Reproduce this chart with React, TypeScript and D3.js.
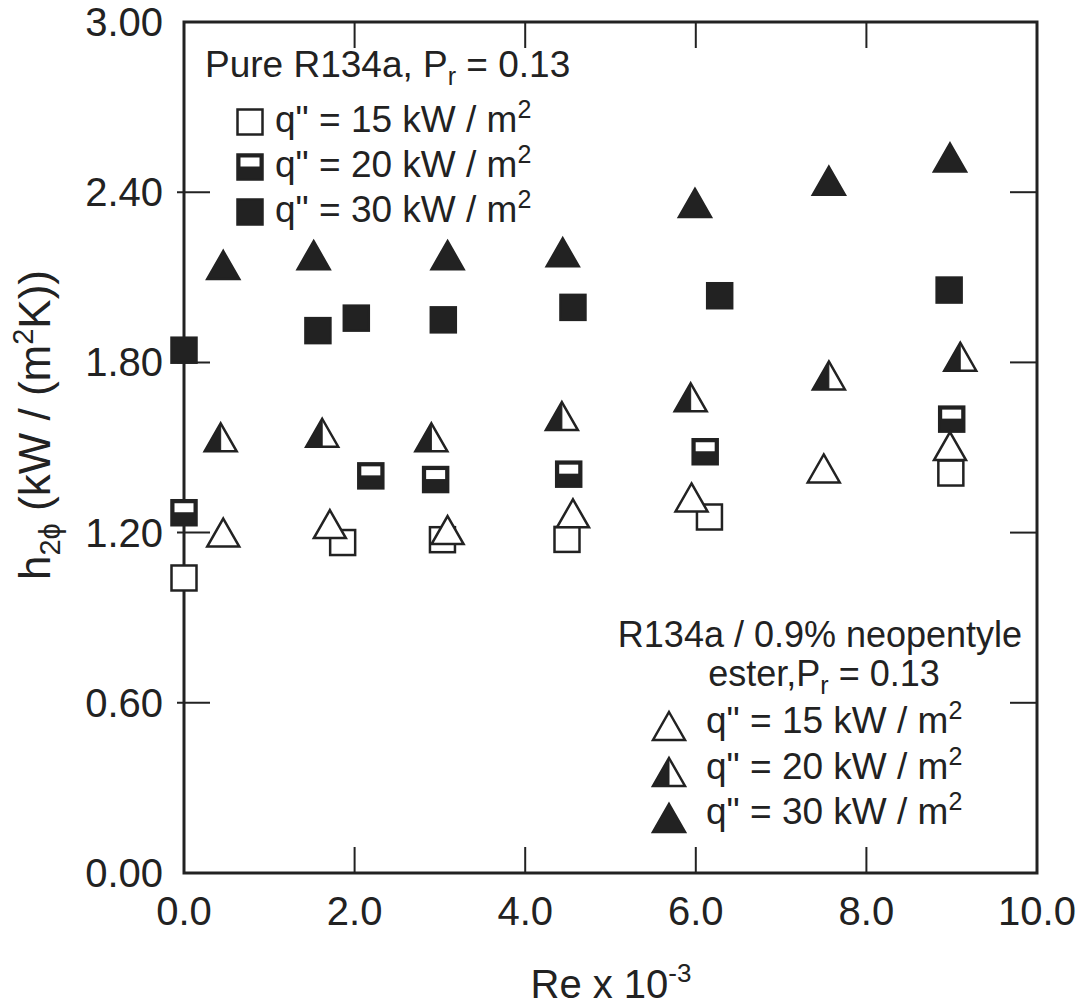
import React from 'react';
import * as d3 from 'd3';

// Re x 10^-3 and h2phi (kW/(m2K))
const pure15Re = [0.0, 1.86, 3.03, 4.49, 6.16, 8.99];
const pure15H = [1.04, 1.165, 1.175, 1.176, 1.255, 1.41];
const pure20Re = [0.0, 2.19, 2.95, 4.51, 6.11, 9.0];
const pure20H = [1.27, 1.4, 1.387, 1.406, 1.485, 1.6];
const pure30Re = [0.0, 1.57, 2.02, 3.04, 4.56, 6.28, 8.97];
const pure30H = [1.843, 1.912, 1.956, 1.95, 1.994, 2.035, 2.055];

const oil15Re = [0.46, 1.71, 3.09, 4.56, 5.95, 7.5, 8.98];
const oil15H = [1.2, 1.23, 1.209, 1.268, 1.324, 1.426, 1.505];
const oil20Re = [0.43, 1.62, 2.9, 4.43, 5.94, 7.56, 9.1];
const oil20H = [1.536, 1.552, 1.536, 1.611, 1.677, 1.754, 1.82];
const oil30Re = [0.46, 1.52, 3.09, 4.44, 5.99, 7.56, 8.98];
const oil30H = [2.143, 2.178, 2.178, 2.188, 2.362, 2.44, 2.522];

const fluxLabels = ['15', '20', '30'];
const xTicks = [0, 2, 4, 6, 8, 10];
const yTicks = [0, 0.6, 1.2, 1.8, 2.4, 3.0];

const W = 1078;
const H = 1008;
const left = 184;
const right = 1037;
const top = 22;
const bottom = 873;
const ink = '#222';
const font = '"Liberation Sans", Arial, Helvetica, sans-serif';

const x = d3.scaleLinear().domain([0, 10]).range([left, right]);
const y = d3.scaleLinear().domain([0, 3]).range([bottom, top]);

const SQ = 25;
const TW = 32;
const TH = 28;

type Kind = 'open' | 'half' | 'full';

const Square = ({ cx, cy, kind }: { cx: number; cy: number; kind: Kind }) => (
  <g>
    <rect x={cx - SQ / 2} y={cy - SQ / 2} width={SQ} height={SQ}
      fill={kind === 'open' ? '#fff' : ink} stroke={ink} strokeWidth={2.5} />
    {kind === 'half' && (
      <rect x={cx - SQ / 2 + 3} y={cy - SQ / 2 + 3} width={SQ - 6} height={9} fill="#fff" />
    )}
  </g>
);

const Triangle = ({ cx, cy, kind }: { cx: number; cy: number; kind: Kind }) => {
  const pts = d3.path();
  pts.moveTo(cx, cy - TH / 2);
  pts.lineTo(cx + TW / 2, cy + TH / 2);
  pts.lineTo(cx - TW / 2, cy + TH / 2);
  pts.closePath();
  const leftHalf = d3.path();
  leftHalf.moveTo(cx, cy - TH / 2);
  leftHalf.lineTo(cx, cy + TH / 2);
  leftHalf.lineTo(cx - TW / 2, cy + TH / 2);
  leftHalf.closePath();
  return (
    <g>
      <path d={pts.toString()} fill={kind === 'full' ? ink : '#fff'} stroke={ink}
        strokeWidth={2.5} strokeLinejoin="miter" />
      {kind === 'half' && <path d={leftHalf.toString()} fill={ink} stroke={ink} strokeWidth={1} />}
    </g>
  );
};

const pairs = (xs: number[], ys: number[]) => xs.map((v, i) => [v, ys[i]]);

const Sub = ({ children, size = 25 }: { children: React.ReactNode; size?: number }) => (
  <tspan fontSize={size} dy={8}>{children}</tspan>
);

export default function App() {
  return (
    <svg width={W} height={H} style={{ position: 'absolute', left: 0, top: 0, background: '#fff' }}
      fontFamily={font} fill={ink}>
      <rect x={0} y={0} width={W} height={H} fill="#fff" />

      {/* frame */}
      <rect x={left} y={top} width={right - left} height={bottom - top} fill="none" stroke={ink} strokeWidth={3} />

      {/* ticks, pointing inward on all four sides */}
      {xTicks.slice(1, -1).map(t => (
        <g key={'xt' + t}>
          <line x1={x(t)} x2={x(t)} y1={bottom} y2={bottom - 26} stroke={ink} strokeWidth={2} />
          <line x1={x(t)} x2={x(t)} y1={top} y2={top + 26} stroke={ink} strokeWidth={2} />
        </g>
      ))}
      {yTicks.slice(1, -1).map(t => (
        <g key={'yt' + t}>
          <line x1={left - 7} x2={left + 26} y1={y(t)} y2={y(t)} stroke={ink} strokeWidth={2} />
          <line x1={right} x2={right - 27} y1={y(t)} y2={y(t)} stroke={ink} strokeWidth={2} />
        </g>
      ))}

      {/* tick labels */}
      {xTicks.map(t => (
        <text key={'xl' + t} x={x(t)} y={925} fontSize={40} textAnchor="middle">{t.toFixed(1)}</text>
      ))}
      {yTicks.map(t => (
        <text key={'yl' + t} x={163} y={y(t) + 14} fontSize={40} textAnchor="end">{t.toFixed(2)}</text>
      ))}

      {/* axis titles */}
      <text x={611} y={998} fontSize={40} textAnchor="middle">
        Re x 10<tspan fontSize={26} dy={-16}>-3</tspan>
      </text>
      <text transform="translate(50,425) rotate(-90)" fontSize={44} textAnchor="middle">
        h<tspan fontSize={29} dy={10}>2ϕ</tspan><tspan dy={-10}> (kW / (m</tspan>
        <tspan fontSize={29} dy={-17}>2</tspan><tspan dy={17}>K))</tspan>
      </text>

      {/* data */}
      {pairs(pure15Re, pure15H).map(([a, b], i) => <Square key={'p15' + i} cx={x(a)} cy={y(b)} kind="open" />)}
      {pairs(pure20Re, pure20H).map(([a, b], i) => <Square key={'p20' + i} cx={x(a)} cy={y(b)} kind="half" />)}
      {pairs(pure30Re, pure30H).map(([a, b], i) => <Square key={'p30' + i} cx={x(a)} cy={y(b)} kind="full" />)}
      {pairs(oil15Re, oil15H).map(([a, b], i) => <Triangle key={'o15' + i} cx={x(a)} cy={y(b)} kind="open" />)}
      {pairs(oil20Re, oil20H).map(([a, b], i) => <Triangle key={'o20' + i} cx={x(a)} cy={y(b)} kind="half" />)}
      {pairs(oil30Re, oil30H).map(([a, b], i) => <Triangle key={'o30' + i} cx={x(a)} cy={y(b)} kind="full" />)}

      {/* legend: pure R134a */}
      <text x={205} y={77} fontSize={37}>
        Pure R134a, P<Sub>r</Sub><tspan dy={-8}> = 0.13</tspan>
      </text>
      {(['open', 'half', 'full'] as Kind[]).map((k, i) => (
        <g key={'lp' + k}>
          <Square cx={250} cy={122 + i * 45} kind={k} />
          <text x={275} y={132 + i * 45} fontSize={37}>
            q" = {fluxLabels[i]} kW / m<tspan fontSize={25} dy={-14}>2</tspan>
          </text>
        </g>
      ))}

      {/* legend: oil mixture */}
      <text x={820} y={647} fontSize={36} textAnchor="middle">R134a / 0.9% neopentyle</text>
      <text x={824} y={686} fontSize={36} textAnchor="middle">
        ester,P<Sub>r</Sub><tspan dy={-8}> = 0.13</tspan>
      </text>
      {(['open', 'half', 'full'] as Kind[]).map((k, i) => (
        <g key={'lo' + k}>
          <Triangle cx={669} cy={726 + i * 46} kind={k} />
          <text x={706} y={733 + i * 45.5} fontSize={37}>
            q" = {fluxLabels[i]} kW / m<tspan fontSize={25} dy={-14}>2</tspan>
          </text>
        </g>
      ))}
    </svg>
  );
}
